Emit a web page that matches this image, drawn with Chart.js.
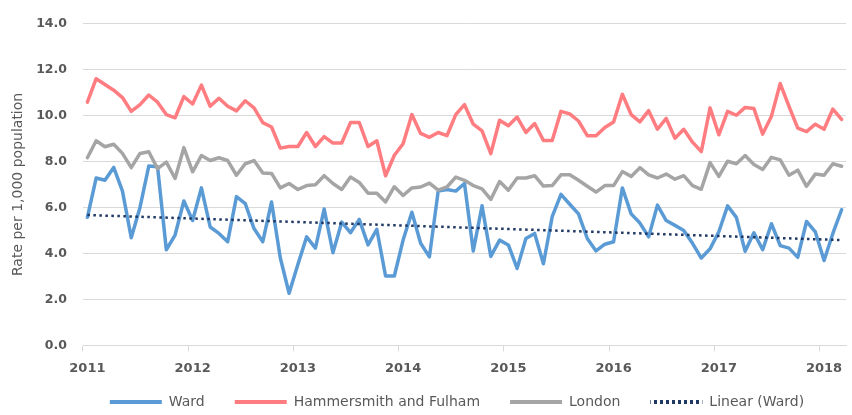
<!DOCTYPE html>
<html>
<head>
<meta charset="utf-8">
<script src="https://cdn.jsdelivr.net/npm/chart.js@4/dist/chart.umd.min.js"></script>
<style>
html,body{margin:0;padding:0;background:#fff;}
#wrap{width:852px;height:415px;}
</style>
</head>
<body>
<div id="wrap"><canvas id="c" width="852" height="415"></canvas></div>
<script>
// ---- data ----
const years = [2011, 2012, 2013, 2014, 2015, 2016, 2017, 2018];
const monthNames = ['Jan','Feb','Mar','Apr','May','Jun','Jul','Aug','Sep','Oct','Nov','Dec'];
const monthCount = 87; // Jan 2011 .. Mar 2018

const ward = [
  5.57, 7.28, 7.18, 7.74, 6.71, 4.68, 6.00, 7.80, 7.77, 4.16, 4.80, 6.28,
  5.43, 6.85, 5.15, 4.87, 4.51, 6.47, 6.17, 5.08, 4.51, 6.24, 3.80, 2.27,
  3.52, 4.72, 4.23, 5.93, 4.03, 5.36, 4.90, 5.48, 4.37, 5.05, 3.02, 3.02,
  4.58, 5.79, 4.44, 3.85, 6.71, 6.78, 6.71, 7.04, 4.11, 6.07, 3.87, 4.58,
  4.37, 3.35, 4.65, 4.87, 3.55, 5.60, 6.57, 6.14, 5.72, 4.65, 4.11, 4.40,
  4.51, 6.85, 5.72, 5.32, 4.72, 6.10, 5.43, 5.22, 5.00, 4.44, 3.80, 4.20,
  4.94, 6.07, 5.57, 4.09, 4.90, 4.16, 5.29, 4.34, 4.23, 3.83, 5.39, 4.94,
  3.69, 4.87, 5.90
];
const hammersmith = [
  10.58, 11.60, 11.35, 11.10, 10.78, 10.18, 10.47, 10.89, 10.58, 10.04, 9.90, 10.82,
  10.50, 11.32, 10.40, 10.75, 10.40, 10.20, 10.64, 10.33, 9.69, 9.50, 8.58, 8.65,
  8.65, 9.26, 8.65, 9.08, 8.80, 8.80, 9.69, 9.69, 8.65, 8.90, 7.38, 8.27,
  8.77, 10.04, 9.22, 9.05, 9.26, 9.12, 10.04, 10.47, 9.62, 9.33, 8.34, 9.79,
  9.55, 9.93, 9.26, 9.65, 8.91, 8.91, 10.18, 10.07, 9.76, 9.12, 9.12, 9.48,
  9.72, 10.92, 10.04, 9.72, 10.21, 9.40, 9.87, 9.01, 9.40, 8.84, 8.43, 10.33,
  9.16, 10.18, 10.01, 10.35, 10.30, 9.19, 9.97, 11.39, 10.40, 9.45, 9.30, 9.62,
  9.40, 10.28, 9.83
];
const london = [
  8.16, 8.90, 8.64, 8.75, 8.35, 7.73, 8.35, 8.42, 7.69, 7.97, 7.26, 8.60,
  7.55, 8.26, 8.04, 8.16, 8.04, 7.40, 7.90, 8.04, 7.50, 7.48, 6.85, 7.04,
  6.78, 6.95, 6.99, 7.38, 7.04, 6.78, 7.32, 7.09, 6.62, 6.62, 6.24, 6.90,
  6.52, 6.85, 6.89, 7.06, 6.75, 6.89, 7.32, 7.18, 6.95, 6.81, 6.35, 7.13,
  6.75, 7.28, 7.28, 7.38, 6.93, 6.95, 7.42, 7.42, 7.18, 6.92, 6.67, 6.95,
  6.95, 7.56, 7.35, 7.73, 7.42, 7.28, 7.45, 7.23, 7.38, 6.95, 6.79, 7.95,
  7.35, 8.01, 7.90, 8.26, 7.87, 7.65, 8.18, 8.07, 7.40, 7.62, 6.92, 7.45,
  7.40, 7.90, 7.79
];
// Linear (Ward) trend line: read end points only
const trendStart = 5.67;
const trendEnd = 4.58;

const yTicks = [0, 2, 4, 6, 8, 10, 12, 14];
const seriesNames = ['Ward', 'Hammersmith and Fulham', 'London', 'Linear (Ward)'];

// ---- build ----
const labels = [];
for (let i = 0; i < monthCount; i++) {
  const y = years[Math.floor(i / 12)];
  labels.push(monthNames[i % 12] + ' ' + y);
}
const trend = labels.map((_, i) => i === 0 ? trendStart : (i === monthCount - 1 ? trendEnd : null));

const textColor = '#595959';
const gridColor = '#d9d9d9';
const colors = ['#5b9bd5', '#ff7c80', '#a5a5a5', '#1f3864'];

// dotted pattern for the trend legend sample
const pc = document.createElement('canvas');
pc.width = 6; pc.height = 1;
const pctx = pc.getContext('2d');
pctx.fillStyle = colors[3];
pctx.fillRect(0, 0, 3, 1);
const dotPattern = document.getElementById('c').getContext('2d').createPattern(pc, 'repeat');

const legendShift = {
  id: 'legendShift',
  afterLayout(chart) {
    const lg = chart.legend;
    if (!lg) return;
    const dx = 29, dy = -20;
    lg.left += dx; lg.right += dx;
    lg.top += dy; lg.bottom += dy;
  }
};

new Chart(document.getElementById('c'), {
  type: 'line',
  data: {
    labels: labels,
    datasets: [
      { label: seriesNames[0], data: ward, borderColor: colors[0], backgroundColor: colors[0], borderWidth: 3.5, order: 3 },
      { label: seriesNames[1], data: hammersmith, borderColor: colors[1], backgroundColor: colors[1], borderWidth: 3.5, order: 2 },
      { label: seriesNames[2], data: london, borderColor: colors[2], backgroundColor: colors[2], borderWidth: 3.5, order: 1 },
      { label: seriesNames[3], data: trend, borderColor: colors[3], backgroundColor: colors[3], borderWidth: 2.5,
        borderDash: [2.5, 3.5], borderCapStyle: 'butt', spanGaps: true, order: 0 }
    ]
  },
  options: {
    responsive: false,
    animation: false,
    devicePixelRatio: 1,
    layout: { padding: { top: 4, right: 6, bottom: -24, left: 10 } },
    elements: {
      point: { radius: 0, hoverRadius: 0 },
      line: { tension: 0, borderJoinStyle: 'round', borderCapStyle: 'round', fill: false }
    },
    scales: {
      x: {
        type: 'category',
        offset: true,
        grid: {
          offset: true,
          drawOnChartArea: false,
          drawTicks: true,
          tickLength: 6,
          color: (ctx) => (ctx.index % 12 === 0 ? gridColor : 'rgba(0,0,0,0)'),
          lineWidth: 1
        },
        border: { display: true, color: gridColor, width: 1 },
        ticks: {
          autoSkip: false,
          maxRotation: 0,
          minRotation: 0,
          padding: 9,
          color: textColor,
          font: { family: 'DejaVu Sans', size: 13, weight: 'bold' },
          callback: function(v, i) { return i % 12 === 0 ? String(years[i / 12]) : ''; }
        }
      },
      y: {
        min: 0,
        max: 14,
        afterBuildTicks: (scale) => { scale.ticks = yTicks.map(v => ({ value: v })); },
        afterFit: (scale) => { scale.width = 73; },
        grid: { color: gridColor, lineWidth: 1, drawTicks: false },
        border: { display: false },
        ticks: {
          padding: 16,
          color: textColor,
          font: { family: 'DejaVu Sans', size: 12.5, weight: 'bold' },
          callback: (v) => Number(v).toFixed(1)
        },
        title: {
          display: true,
          text: 'Rate per 1,000 population',
          color: textColor,
          font: { family: 'DejaVu Sans', size: 14, weight: 'normal' },
          padding: { top: 0, bottom: 9 }
        }
      }
    },
    plugins: {
      tooltip: { enabled: false },
      legend: {
        position: 'bottom',
        labels: {
          usePointStyle: false,
          boxWidth: 52,
          boxHeight: 4,
          padding: 30,
          color: textColor,
          font: { family: 'DejaVu Sans', size: 14 },
          generateLabels: (chart) => chart.data.datasets.map((ds, i) => ({
            text: ds.label,
            fillStyle: i === 3 ? dotPattern : ds.borderColor,
            strokeStyle: ds.borderColor,
            fontColor: textColor,
            lineWidth: 0,
            hidden: false,
            datasetIndex: i
          }))
        }
      }
    }
  },
  plugins: [legendShift]
});
</script>
</body>
</html>
